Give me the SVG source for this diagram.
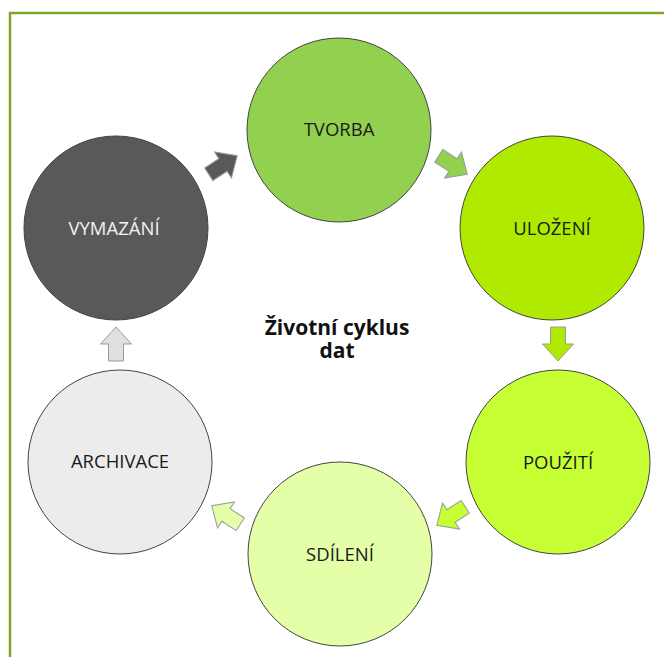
<svg xmlns="http://www.w3.org/2000/svg" width="664" height="657" viewBox="0 0 664 657">
<style>
.node{stroke:#444;stroke-width:1}
.lbl{font-family:"Open Sans","Liberation Sans",sans-serif;font-size:18.5px;text-anchor:middle;fill:#1a1a1a}
.arr{stroke:#9a9a9a;stroke-width:1}
.title{font-family:"Open Sans","Liberation Sans",sans-serif;font-size:21px;font-weight:bold;text-anchor:middle;fill:#111}
</style>
<defs>
<polygon id="ar" points="-17,-7.5 0,-7.5 0,-15.5 17,0 0,15.5 0,7.5 -17,7.5"/>
</defs>
<rect width="664" height="657" fill="#fff"/>
<path d="M10,657 V13 H664" fill="none" stroke="#7fa62a" stroke-width="2.5"/>
<g id="tvorba"><circle class="node" cx="339" cy="130" r="92" fill="#92d050"/><text class="lbl" x="339" y="136">TVORBA</text></g>
<g id="ulozeni"><circle class="node" cx="552" cy="228" r="92" fill="#b0ea00"/><text class="lbl" x="552" y="235">ULOŽENÍ</text></g>
<g id="pouziti"><circle class="node" cx="558" cy="462" r="92" fill="#c6ff33"/><text class="lbl" x="558" y="469">POUŽITÍ</text></g>
<g id="sdileni"><circle class="node" cx="340" cy="554" r="92" fill="#e4ffa8"/><text class="lbl" x="340" y="561">SDÍLENÍ</text></g>
<g id="archivace"><circle class="node" cx="120" cy="462" r="92" fill="#ececec"/><text class="lbl" x="120" y="468">ARCHIVACE</text></g>
<g id="vymazani"><circle class="node" cx="116" cy="228" r="92" fill="#595959"/><text class="lbl" x="114" y="235" style="fill:#f2f2f2">VYMAZÁNÍ</text></g>
<g id="connectors">
<use href="#ar" class="arr" fill="#595959" transform="translate(223,165) rotate(-33)"/>
<use href="#ar" class="arr" fill="#92d050" transform="translate(453,165) rotate(33)"/>
<use href="#ar" class="arr" fill="#b0ea00" transform="translate(558,344) rotate(90)"/>
<use href="#ar" class="arr" fill="#c6ff33" transform="translate(451,516) rotate(147)"/>
<use href="#ar" class="arr" fill="#e4ffa8" transform="translate(226,515) rotate(213)"/>
<use href="#ar" class="arr" fill="#e0e0e0" transform="translate(116,344) rotate(270)"/>
</g>
<g id="title"><text class="title"><tspan x="337" y="335">Životní cyklus</tspan><tspan x="337" y="358">dat</tspan></text></g>
</svg>
